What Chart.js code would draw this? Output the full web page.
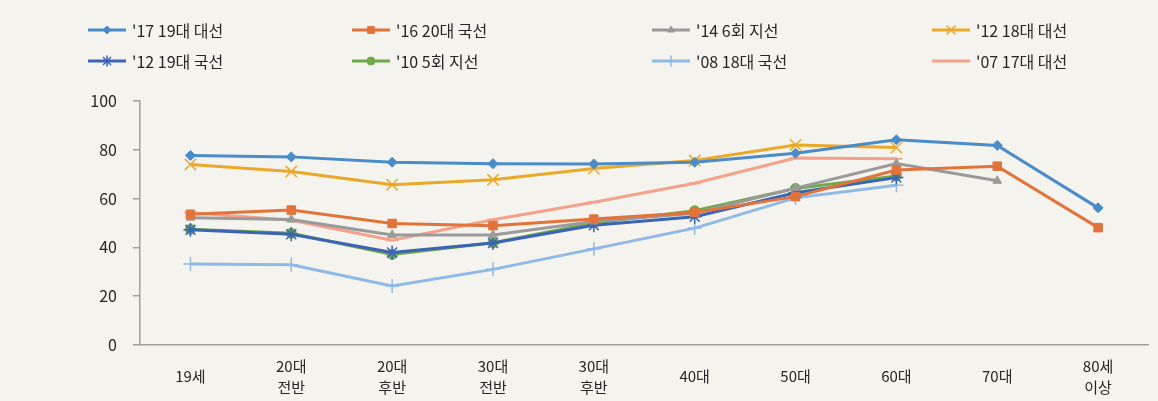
<!DOCTYPE html>
<html lang="ko">
<head>
  <meta charset="UTF-8" />
  <title>연령대별 투표율</title>
  <script src="https://cdn.jsdelivr.net/npm/chart.js"></script>
  <style>
    html, body { margin: 0; padding: 0; background: #f4f3ed; }
    .chart-box { position: relative; width: 1158px; height: 401px; }
  </style>
</head>
<body>
  <div class="chart-box">
    <canvas id="turnout"></canvas>
  </div>

  <script>
    // 데이터
    const categories = ['19세', ['20대', '전반'], ['20대', '후반'], ['30대', '전반'], ['30대', '후반'], '40대', '50대', '60대', '70대', ['80세', '이상']];
    const seriesNames = ["'17 19대 대선", "'16 20대 국선", "'14 6회 지선", "'12 18대 대선", "'12 19대 국선", "'10 5회 지선", "'08 18대 국선", "'07 17대 대선"];
    const pres2017 = [77.7, 77.1, 74.9, 74.3, 74.2, 74.9, 78.6, 84.1, 81.8, 56.2];
    const gen2016 = [53.6, 55.3, 49.8, 48.9, 51.6, 54.3, 60.8, 71.7, 73.3, 48.1];
    const local2014 = [52.2, 51.4, 45.1, 45.1, 50.6, 54.0, 64.3, 74.4, 67.3, null];
    const pres2012 = [74.0, 71.1, 65.7, 67.7, 72.3, 75.6, 82.0, 80.9, null, null];
    const gen2012 = [47.2, 45.4, 37.9, 41.8, 49.1, 52.6, 62.4, 68.6, null, null];
    const local2010 = [47.4, 45.8, 37.1, 41.9, 50.0, 55.0, 64.1, 69.3, null, null];
    const gen2008 = [33.2, 32.9, 24.2, 31.0, 39.4, 47.9, 60.3, 65.5, null, null];
    const pres2007 = [54.2, 51.1, 42.9, 51.3, 58.5, 66.3, 76.6, 76.3, null, null];
    const yTicks = [0, 20, 40, 60, 80, 100];

    const seriesValues = [pres2017, gen2016, local2014, pres2012, gen2012, local2010, gen2008, pres2007];
    const colors = ['#4a8bc9', '#e2733a', '#9a9a9a', '#eaa928', '#3b64b4', '#6ea94a', '#90b9e6', '#f5a18d'];
    const styles = [
      { pointStyle: 'rectRot', radius: 5, borderWidth: 1 },
      { pointStyle: 'rect', radius: 6, borderWidth: 1 },
      { pointStyle: 'triangle', radius: 5, borderWidth: 1 },
      { pointStyle: 'crossRot', radius: 8, borderWidth: 1.5 },
      { pointStyle: 'star', radius: 7, borderWidth: 1.5 },
      { pointStyle: 'circle', radius: 5, borderWidth: 1 },
      { pointStyle: 'cross', radius: 7, borderWidth: 1.5 },
      { pointStyle: 'line', radius: 6, borderWidth: 2 }
    ];

    const datasets = seriesNames.map((name, i) => ({
      label: name,
      data: seriesValues[i],
      borderColor: colors[i],
      backgroundColor: colors[i],
      borderWidth: 3,
      pointStyle: styles[i].pointStyle,
      pointRadius: styles[i].radius,
      pointHoverRadius: styles[i].radius,
      pointBorderWidth: styles[i].borderWidth,
      pointBackgroundColor: colors[i],
      pointBorderColor: colors[i],
      tension: 0,
      order: i === 0 ? -1 : i
    }));

    // 범례 (위치 직접 지정)
    const legendCols = [88, 352, 652, 932];
    const legendRows = [30, 61];
    const legendPlugin = {
      id: 'customLegend',
      afterDraw(chart) {
        const c = chart.ctx;
        c.save();
        chart.data.datasets.forEach((ds, i) => {
          const x = legendCols[i % 4];
          const y = legendRows[Math.floor(i / 4)];
          c.strokeStyle = ds.borderColor;
          c.fillStyle = ds.borderColor;
          c.lineWidth = 3;
          c.beginPath();
          c.moveTo(x, y);
          c.lineTo(x + 38, y);
          c.stroke();
          c.lineWidth = styles[i].borderWidth;
          Chart.helpers.drawPoint(c, {
            pointStyle: styles[i].pointStyle,
            radius: styles[i].radius * 0.8,
            borderWidth: styles[i].borderWidth,
            rotation: 0
          }, x + 19, y);
          c.fillStyle = '#262626';
          c.font = '16px "Noto Sans CJK KR", "Noto Sans", sans-serif';
          c.textBaseline = 'middle';
          c.textAlign = 'left';
          c.fillText(ds.label, x + 44, y + 1);
        });
        c.restore();
      }
    };

    const ctx = document.getElementById('turnout').getContext('2d');
    new Chart(ctx, {
      type: 'line',
      data: { labels: categories, datasets: datasets },
      plugins: [legendPlugin],
      options: {
        responsive: true,
        maintainAspectRatio: false,
        animation: false,
        layout: { padding: { top: 101, right: 4, left: 0, bottom: 0 } },
        plugins: {
          legend: { display: false },
          tooltip: { enabled: false }
        },
        scales: {
          x: {
            offset: true,
            grid: { display: false },
            border: { display: true, color: '#a0a0a0', width: 1.5 },
            ticks: {
              color: '#262626',
              padding: 13,
              maxRotation: 0,
              autoSkip: false,
              crossAlign: 'center',
              font: { family: '"Noto Sans CJK KR", sans-serif', size: 15, lineHeight: 1.4 }
            },
            afterFit(scale) { scale.height = 56; }
          },
          y: {
            min: 0,
            max: 100,
            afterBuildTicks(scale) { scale.ticks = yTicks.map(v => ({ value: v })); },
            grid: { display: true, drawOnChartArea: false, drawTicks: true, tickLength: 7, color: '#a0a0a0', lineWidth: 1.5 },
            border: { display: true, color: '#a0a0a0', width: 1.5 },
            ticks: {
              color: '#262626',
              padding: 16,
              font: { family: '"Noto Sans CJK KR", sans-serif', size: 16 }
            },
            afterFit(scale) { scale.width = 140; }
          }
        }
      }
    });
  </script>
</body>
</html>
